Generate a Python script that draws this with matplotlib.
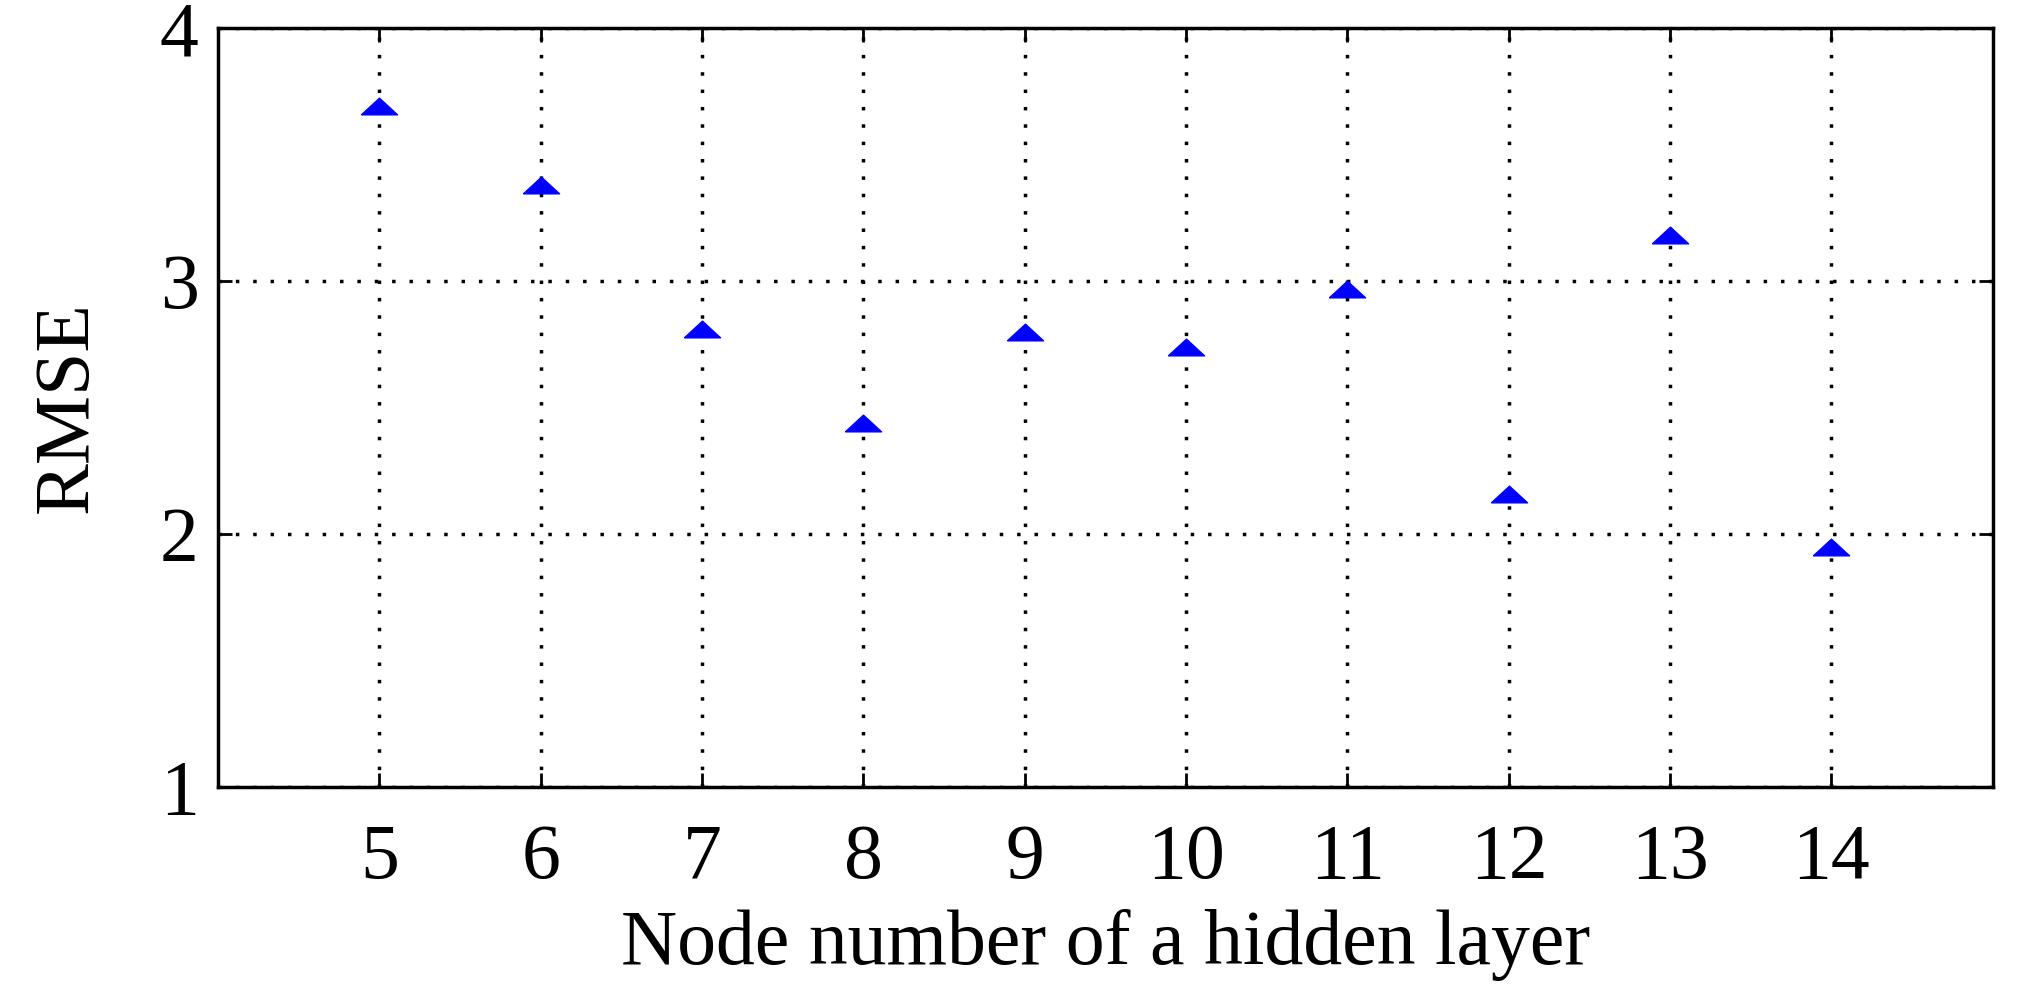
import matplotlib
matplotlib.use("Agg")
from matplotlib import pyplot as plt

nodes = [5, 6, 7, 8, 9, 10, 11, 12, 13, 14]
rmse = [3.69, 3.38, 2.81, 2.44, 2.80, 2.74, 2.97, 2.16, 3.18, 1.95]


def main():
    plt.rcParams['font.family'] = ['Liberation Serif', 'DejaVu Serif']
    fig = plt.figure(figsize=(20.19, 10), dpi=100)
    ax = fig.add_axes([0.108, 0.213, 0.879, 0.759])
    # flattened triangle, like the reference markers
    tri = [(-1.3, -0.6), (1.3, -0.6), (0, 0.6), (-1.3, -0.6)]
    ax.plot(nodes, rmse, linestyle='none', marker=tri, markersize=26, color='#0000ff')
    ax.set_xlim(4, 15)
    ax.set_ylim(1, 4)
    ax.set_xticks(nodes)
    ax.set_yticks([1, 2, 3, 4])
    ax.grid(True, linestyle=(0, (1, 4)), color='black', linewidth=2.5)
    ax.tick_params(labelsize=56, direction='in', length=10, width=2, right=True, top=True, pad=14)
    ax.tick_params(axis='x', pad=26)
    for s in ax.spines.values():
        s.set_linewidth(2.5)
    ax.set_xlabel('Node number of a hidden layer', fontsize=56, labelpad=10)
    ax.set_ylabel('RMSE', fontsize=56, labelpad=40)
    fig.savefig('out.png')


if __name__ == '__main__':
    main()
